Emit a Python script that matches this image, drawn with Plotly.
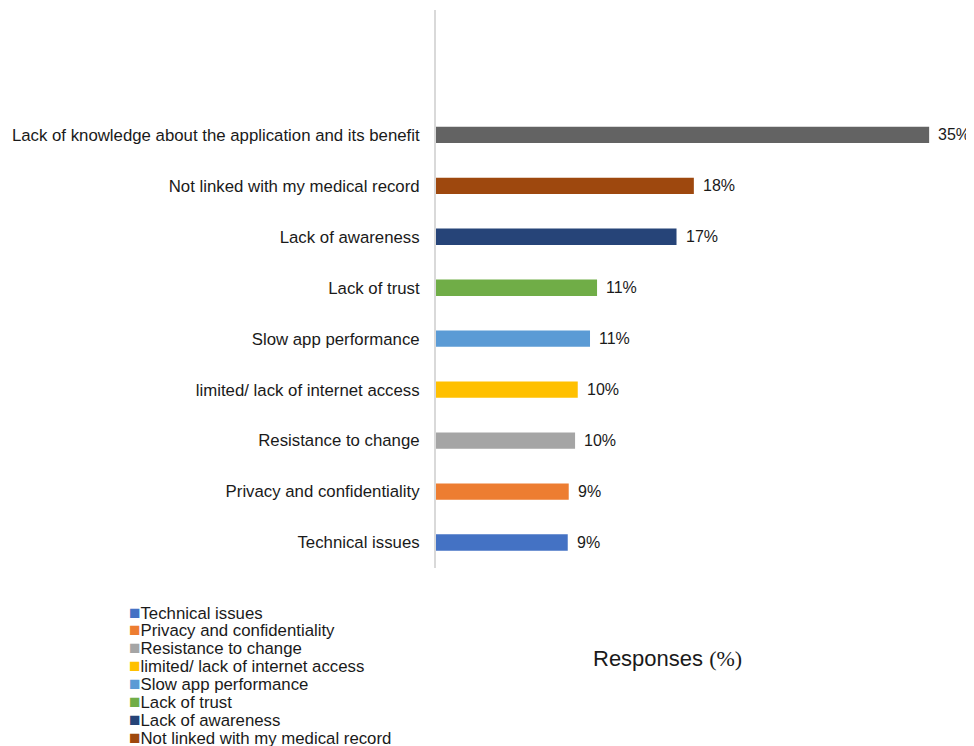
import plotly.graph_objects as go

# Data (bottom to top as drawn)
categories = [
    "Technical issues",
    "Privacy and confidentiality",
    "Resistance to change",
    "limited/ lack of internet access",
    "Slow app performance",
    "Lack of trust",
    "Lack of awareness",
    "Not linked with my medical record",
    "Lack of knowledge about the application and its benefit",
]
values = [9.35, 9.42, 9.87, 10.06, 10.93, 11.43, 17.07, 18.3, 35.0]
value_labels = ["9%", "9%", "10%", "10%", "11%", "11%", "17%", "18%", "35%"]
colors = ["#4472C4", "#ED7D31", "#A5A5A5", "#FFC000", "#5B9BD5",
          "#70AD47", "#264478", "#9E480E", "#636363"]
in_legend = [True, True, True, True, True, True, True, True, False]

FONT = "Arial, 'Liberation Sans', sans-serif"
TXT = "#1a1a1a"

# page body adds an 8px margin; compensate so the picture lines up
OFF = 8
W, H = 974 - OFF, 746 - OFF
plot_left, plot_right, plot_top, plot_bottom = 436 - OFF, 930 - OFF, 10 - OFF, 568 - OFF
ml, mr, mt, mb = plot_left, W - plot_right, plot_top, H - plot_bottom
ph = plot_bottom - plot_top
pw = plot_right - plot_left

fig = go.Figure()
for cat, val, col in zip(categories, values, colors):
    fig.add_trace(go.Bar(
        x=[val], y=[cat], orientation="h", name=cat,
        marker=dict(color=col, line=dict(width=0)),
        width=0.32, showlegend=False, hoverinfo="x+y",
    ))

annotations = []
# data labels
for cat, val, lab in zip(categories, values, value_labels):
    annotations.append(dict(
        x=val, y=cat, xref="x", yref="y", text=lab, showarrow=False,
        xanchor="left", yanchor="middle", xshift=7,
        font=dict(family=FONT, size=16, color=TXT),
    ))

# legend drawn as text entries (tight spacing like the reference)
leg_x = (127 - OFF - plot_left) / pw
leg_y0 = -(612 - OFF - plot_bottom) / ph
leg_step = 17.9 / ph
legend_items = [(c, col) for c, col, leg in zip(categories, colors, in_legend) if leg]
for i, (cat, col) in enumerate(legend_items):
    annotations.append(dict(
        x=leg_x, y=leg_y0 - i * leg_step, xref="paper", yref="paper",
        text=f"<span style='color:{col};font-size:19px'>■</span>{cat}",
        showarrow=False, xanchor="left", yanchor="middle",
        font=dict(family=FONT, size=16.8, color=TXT),
    ))

# axis title
annotations.append(dict(
    x=(667 - OFF - plot_left) / pw, y=-(658 - OFF - plot_bottom) / ph,
    xref="paper", yref="paper",
    text="Responses <span style=\"font-family:'Liberation Serif', 'Times New Roman', serif\">(%)</span>",
    showarrow=False, xanchor="center", yanchor="middle",
    font=dict(family=FONT, size=22, color=TXT),
))

fig.update_layout(
    width=W, height=H,
    margin=dict(l=ml, r=mr, t=mt, b=mb, autoexpand=False),
    paper_bgcolor="white", plot_bgcolor="white",
    barmode="overlay",
    showlegend=False,
    font=dict(family=FONT, size=16.8, color=TXT),
    xaxis=dict(range=[0, 35.06], showgrid=False, zeroline=False,
               showticklabels=False, ticks="", showline=False),
    yaxis=dict(type="category", range=[-0.5, 10.45], showgrid=False,
               showline=True, linecolor="#d9d9d9", linewidth=2,
               ticks="", ticklabelstandoff=11,
               tickfont=dict(family=FONT, size=16.8, color=TXT)),
    annotations=annotations,
)

fig.write_html("out.html")
